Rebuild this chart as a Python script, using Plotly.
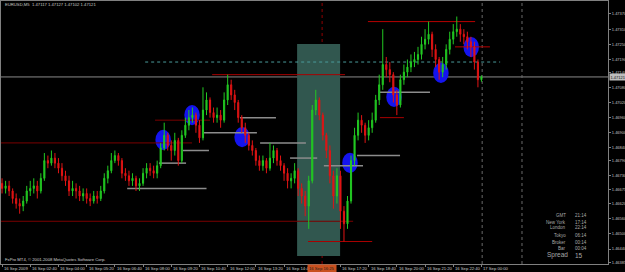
import plotly.graph_objects as go
import pandas as pd

# ---------------- data ----------------
bar_times = pd.date_range("2009-09-16 01:20", periods=137, freq="10min")

closes = [1.4668,1.4669,1.4667,1.4664,1.4662,1.4661,1.4663,1.4667,1.4668,1.4669,
          1.4667,1.4672,1.4679,1.4678,1.4680,1.4678,1.4676,1.4673,1.4671,1.4667,
          1.4668,1.4667,1.4665,1.4666,1.4664,1.4663,1.4665,1.4664,1.4667,1.4672,
          1.4675,1.4679,1.4681,1.4679,1.4674,1.4673,1.4671,1.4672,1.4669,1.4670,
          1.4674,1.4676,1.4675,1.4674,1.4677,1.4684,1.4689,1.4685,1.4683,1.4687,
          1.4679,1.4689,1.4693,1.4696,1.4697,1.4693,1.4688,1.4699,1.4703,1.4698,
          1.4696,1.4697,1.4695,1.4703,1.4709,1.4705,1.4702,1.4696,1.4692,1.4689,
          1.4685,1.4683,1.4679,1.4677,1.4679,1.4676,1.4680,1.4683,1.4679,1.4677,
          1.4674,1.4671,1.4672,1.4675,1.4668,1.4665,1.4661,1.4671,1.4699,1.4703,
          1.4697,1.4689,1.4683,1.4673,1.4665,1.4673,1.4659,1.4654,1.4663,1.4679,
          1.4689,1.4695,1.4693,1.4689,1.4692,1.4695,1.4703,1.4709,1.4717,1.4715,
          1.4713,1.4705,1.4701,1.4711,1.4714,1.4716,1.4718,1.4719,1.4721,1.4725,
          1.4727,1.4729,1.4723,1.4719,1.4714,1.4717,1.4723,1.4727,1.4730,1.4731,
          1.4729,1.4728,1.4726,1.4724,1.4718,1.4711,1.47121]

highs = [1.4672,1.4671,1.4671,1.4668,1.4666,1.4664,1.4665,1.4669,1.4671,1.4672,
         1.4671,1.4674,1.4682,1.4681,1.4683,1.4682,1.4680,1.4678,1.4675,1.4673,
         1.4671,1.4670,1.4669,1.4668,1.4668,1.4666,1.4667,1.4667,1.4669,1.4674,
         1.4677,1.4682,1.4683,1.4682,1.4680,1.4676,1.4675,1.4674,1.4673,1.4672,
         1.4676,1.4678,1.4678,1.4677,1.4679,1.4686,1.4694,1.4690,1.4687,1.4690,
         1.4688,1.4691,1.4696,1.4699,1.4700,1.4698,1.4695,1.4708,1.4706,1.4704,
         1.4700,1.4700,1.4699,1.4706,1.4713,1.4711,1.4707,1.4703,1.4697,1.4694,
         1.4690,1.4687,1.4684,1.4681,1.4681,1.4680,1.4686,1.4685,1.4684,1.4681,
         1.4678,1.4676,1.4674,1.4678,1.4676,1.4670,1.4667,1.4673,1.4701,1.4707,
         1.4704,1.4698,1.4690,1.4685,1.4675,1.4676,1.4675,1.4661,1.4665,1.4681,
         1.4692,1.4698,1.4697,1.4694,1.4695,1.4698,1.4705,1.4713,1.4731,1.4720,
         1.4718,1.4714,1.4707,1.4713,1.4717,1.4719,1.4721,1.4722,1.4724,1.4728,
         1.4731,1.4734,1.4730,1.4725,1.4720,1.4720,1.4725,1.4730,1.4733,1.4736,
         1.4733,1.4731,1.4730,1.4728,1.4726,1.4719,1.47127]

lows = [1.4666,1.4666,1.4665,1.4662,1.4660,1.4658,1.4659,1.4662,1.4665,1.4666,
        1.4664,1.4666,1.4671,1.4676,1.4677,1.4676,1.4674,1.4671,1.4669,1.4665,
        1.4665,1.4664,1.4663,1.4663,1.4662,1.4661,1.4662,1.4662,1.4663,1.4666,
        1.4670,1.4674,1.4678,1.4677,1.4672,1.4671,1.4669,1.4669,1.4667,1.4667,
        1.4669,1.4672,1.4673,1.4672,1.4672,1.4676,1.4683,1.4683,1.4679,1.4681,
        1.4677,1.4678,1.4688,1.4691,1.4694,1.4690,1.4686,1.4687,1.4697,1.4696,
        1.4694,1.4694,1.4692,1.4694,1.4701,1.4703,1.4699,1.4694,1.4690,1.4686,
        1.4683,1.4681,1.4677,1.4675,1.4675,1.4674,1.4675,1.4678,1.4677,1.4675,
        1.4671,1.4668,1.4668,1.4670,1.4665,1.4662,1.4657,1.4652,1.4670,1.4697,
        1.4695,1.4687,1.4680,1.4670,1.4660,1.4662,1.4652,1.4647,1.4652,1.4662,
        1.4677,1.4687,1.4690,1.4686,1.4687,1.4690,1.4694,1.4701,1.4707,1.4712,
        1.4710,1.4702,1.4697,1.4700,1.4709,1.4712,1.4714,1.4716,1.4717,1.4719,
        1.4723,1.4725,1.4720,1.4716,1.4711,1.4712,1.4715,1.4721,1.4725,1.4728,
        1.4726,1.4725,1.4723,1.4720,1.4715,1.4708,1.47102]

first_open = 1.4670
opens = [first_open] + closes[:-1]

price_ticks = [1.47370, 1.47310, 1.47250, 1.47190, 1.47140, 1.47080, 1.47020, 1.46960,
               1.46900, 1.46840, 1.46790, 1.46730, 1.46675, 1.46620, 1.46560, 1.46500,
               1.46440, 1.46385]

time_ticks = ["2009-09-16 01:20", "2009-09-16 02:40", "2009-09-16 04:00", "2009-09-16 05:20",
              "2009-09-16 06:40", "2009-09-16 08:00", "2009-09-16 09:20", "2009-09-16 10:40",
              "2009-09-16 12:00", "2009-09-16 13:20", "2009-09-16 14:40",
              "2009-09-16 17:20", "2009-09-16 18:40", "2009-09-16 20:00", "2009-09-16 21:20",
              "2009-09-16 22:40", "2009-09-17 00:00"]
time_labels = ["16 Sep 2009", "16 Sep 02:40", "16 Sep 04:00", "16 Sep 05:20", "16 Sep 06:40",
               "16 Sep 08:00", "16 Sep 09:20", "16 Sep 10:40", "16 Sep 12:00", "16 Sep 13:20",
               "16 Sep 14:40", "16 Sep 17:20", "16 Sep 18:40", "16 Sep 20:00",
               "16 Sep 21:20", "16 Sep 22:40", "17 Sep 00:00"]

current_price = 1.47121
header_text = "EURUSD,M5  1.47117 1.47127 1.47102 1.47121"
copyright_text = "FxPro MT4, © 2001-2008 MetaQuotes Software Corp."

# horizontal level objects (price, start, end)
red_prices = [1.4686, 1.4695, 1.4655, 1.4713, 1.4647, 1.4696, 1.4734, 1.4724]
red_start = ["2009-09-16 01:17", "2009-09-16 08:34", "2009-09-16 01:17", "2009-09-16 11:16",
             "2009-09-16 15:48", "2009-09-16 19:12", "2009-09-16 18:38", "2009-09-16 22:45"]
red_end = ["2009-09-16 10:19", "2009-09-16 11:10", "2009-09-16 17:56", "2009-09-16 17:33",
           "2009-09-16 18:50", "2009-09-16 20:20", "2009-09-16 23:42", "2009-09-17 00:24"]

gray_prices = [1.4668, 1.4678, 1.4683, 1.4690, 1.4696, 1.4686, 1.4680, 1.4677, 1.4681, 1.4706]
gray_start = ["2009-09-16 07:15", "2009-09-16 08:45", "2009-09-16 09:53", "2009-09-16 10:53",
              "2009-09-16 12:35", "2009-09-16 13:32", "2009-09-16 14:57", "2009-09-16 16:33",
              "2009-09-16 18:07", "2009-09-16 19:12"]
gray_end = ["2009-09-16 11:00", "2009-09-16 10:02", "2009-09-16 11:07", "2009-09-16 13:23",
            "2009-09-16 14:17", "2009-09-16 15:42", "2009-09-16 16:14", "2009-09-16 18:24",
            "2009-09-16 20:09", "2009-09-16 21:34"]

dotted_level = 1.4718
dotted_start = "2009-09-16 08:06"
dotted_end = "2009-09-17 00:53"

signal_times = ["2009-09-16 08:57", "2009-09-16 10:19", "2009-09-16 12:41", "2009-09-16 17:47",
                "2009-09-16 19:52", "2009-09-16 22:05", "2009-09-16 23:31"]
signal_prices = [1.46872, 1.46970, 1.46883, 1.46781, 1.47042, 1.47137, 1.47239]

box_start, box_end = "2009-09-16 15:17", "2009-09-16 17:19"
box_high, box_low = 1.47251, 1.46413

cursor_time = "2009-09-16 16:28"
cursor_label = "16 Sep 16:25"
separator_times = ["2009-09-17 00:02", "2009-09-17 01:55"]

clock_names = ["GMT", "New York", "London", "Tokyo", "Broker", "Bar"]
clock_values = ["21:14", "17:14", "22:14", "06:14", "00:14", "00:04"]
spread_value = "15"

# ---------------- figure ----------------
FONT = "Liberation Sans"
fig = go.Figure()
fig.add_trace(go.Candlestick(
    x=bar_times, open=opens, high=highs, low=lows, close=closes,
    increasing=dict(line=dict(color="#22c822", width=1), fillcolor="#22c822"),
    decreasing=dict(line=dict(color="#e01414", width=1), fillcolor="#e01414"),
    whiskerwidth=0, showlegend=False, hoverinfo="skip"))

shapes = []
shapes.append(dict(type="rect", xref="x", yref="y", x0=box_start, x1=box_end, y0=box_low, y1=box_high,
                   fillcolor="#31574f", line=dict(width=0), layer="below"))
half_w = pd.Timedelta(minutes=22)
half_h = 0.0004
for t, p in zip(signal_times, signal_prices):
    tc = pd.Timestamp(t)
    shapes.append(dict(type="circle", xref="x", yref="y",
                       x0=str(tc - half_w), x1=str(tc + half_w), y0=p - half_h, y1=p + half_h,
                       fillcolor="#1414ee", line=dict(width=0), layer="below"))
shapes.append(dict(type="line", xref="paper", yref="y", x0=0, x1=1, y0=current_price, y1=current_price,
                   line=dict(color="#8a8a8a", width=1), layer="below"))
red_colors = ["#7a0000", "#7a0000", "#7a0000", "#a80000", "#a80000", "#a80000", "#b80000", "#b80000"]
for p, a, b, c in zip(red_prices, red_start, red_end, red_colors):
    shapes.append(dict(type="line", xref="x", yref="y", x0=a, x1=b, y0=p, y1=p,
                       line=dict(color=c, width=1), layer="below"))
for p, a, b in zip(gray_prices, gray_start, gray_end):
    shapes.append(dict(type="line", xref="x", yref="y", x0=a, x1=b, y0=p, y1=p,
                       line=dict(color="#8c8c8c", width=1.5), layer="below"))
shapes.append(dict(type="line", xref="x", yref="y", x0=dotted_start, x1=dotted_end,
                   y0=dotted_level, y1=dotted_level,
                   line=dict(color="#4a9a9a", width=1, dash="dot"), layer="below"))
shapes.append(dict(type="line", xref="x", yref="paper", x0=cursor_time, x1=cursor_time, y0=0, y1=1,
                   line=dict(color="#900000", width=1, dash="dot"), layer="below"))
for t in separator_times:
    shapes.append(dict(type="line", xref="x", yref="paper", x0=t, x1=t, y0=0, y1=1,
                       line=dict(color="#6a6a6a", width=1, dash="dot"), layer="below"))

ann = []
ann.append(dict(text=header_text, xref="paper", yref="paper", x=0.004, y=0.985, xanchor="left",
                yanchor="middle", showarrow=False, font=dict(size=4.2, color="#c8c8c8", family=FONT)))
ann.append(dict(text=copyright_text, xref="paper", yref="paper", x=0.004, y=0.016, xanchor="left",
                yanchor="middle", showarrow=False, font=dict(size=4.2, color="#d0d0d0", family=FONT)))
for t, lab in zip(time_ticks, time_labels):
    ann.append(dict(text=lab, xref="x", yref="paper", x=t, y=-0.016, xanchor="left", yanchor="middle",
                    showarrow=False, font=dict(size=4.2, color="#c8c8c8", family=FONT)))
ann.append(dict(text=cursor_label, xref="x", yref="paper", x=cursor_time, y=-0.016, xanchor="center",
                yanchor="middle", showarrow=False, bgcolor="#c8501e", borderpad=1,
                font=dict(size=4.2, color="#202020", family=FONT)))
ann.append(dict(text=f"{current_price:.5f}", xref="paper", yref="y", x=1.0, y=current_price,
                xanchor="left", yanchor="middle", showarrow=False, bgcolor="#bdbdbd", borderpad=0.5,
                xshift=1, font=dict(size=4, color="#101010", family=FONT)))
row_y = [215, 222, 228, 235, 242, 248]
for name, val, ypx in zip(clock_names, clock_values, row_y):
    yp = (264 - ypx) / 263
    ann.append(dict(text=name, xref="paper", yref="paper", x=(568 - 1) / 607, y=yp, xanchor="right",
                    yanchor="middle", showarrow=False, font=dict(size=4.5, color="#a8a8a8", family=FONT)))
    ann.append(dict(text=val, xref="paper", yref="paper", x=(573 - 1) / 607, y=yp, xanchor="left",
                    yanchor="middle", showarrow=False, font=dict(size=4.5, color="#a8a8a8", family=FONT)))
ann.append(dict(text="Spread", xref="paper", yref="paper", x=(570 - 1) / 607, y=(264 - 255) / 263,
                xanchor="right", yanchor="middle", showarrow=False,
                font=dict(size=6.5, color="#a8a8a8", family=FONT)))
ann.append(dict(text=spread_value, xref="paper", yref="paper", x=(573 - 1) / 607, y=(264 - 255) / 263,
                xanchor="left", yanchor="middle", showarrow=False,
                font=dict(size=6.5, color="#a8a8a8", family=FONT)))

fig.update_layout(
    width=625, height=272,
    margin=dict(l=1, r=17, t=1, b=8, autoexpand=False),
    paper_bgcolor="black", plot_bgcolor="black", showlegend=False,
    boxgap=0.55,
    shapes=shapes, annotations=ann,
    xaxis=dict(range=["2009-09-16 01:17", "2009-09-17 05:59"], rangeslider=dict(visible=False),
               showgrid=False, zeroline=False, showline=True, linecolor="#808080", linewidth=1,
               mirror=True, tickvals=time_ticks, ticks="outside", ticklen=2, tickcolor="#808080",
               showticklabels=False),
    yaxis=dict(range=[1.46381, 1.474214], side="right", showgrid=False, zeroline=False,
               showline=True, linecolor="#808080", linewidth=1, mirror=True,
               tickvals=price_ticks, ticktext=[f"{v:.5f}" for v in price_ticks],
               ticks="outside", ticklen=2, tickcolor="#808080",
               tickfont=dict(size=4, color="#c0c0c0", family=FONT)),
    font=dict(family=FONT),
)

fig.write_html("out.html")
